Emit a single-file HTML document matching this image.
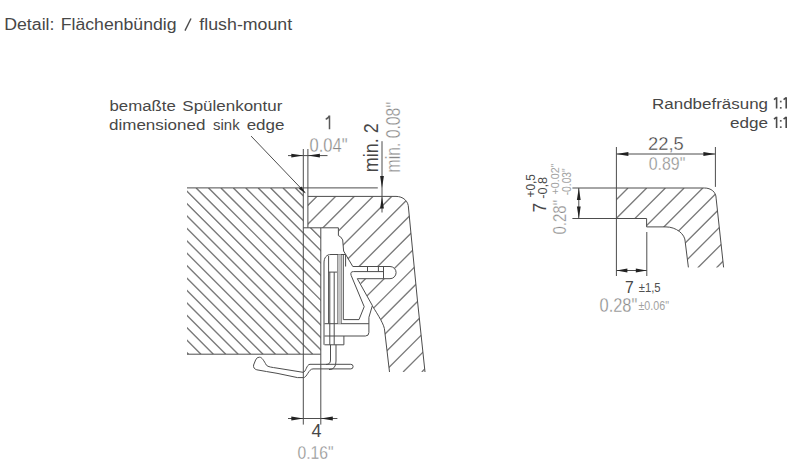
<!DOCTYPE html>
<html><head><meta charset="utf-8"><style>
html,body{margin:0;padding:0;background:#fff;}
body{width:800px;height:469px;overflow:hidden;position:relative;}
svg{position:absolute;left:0;top:0;font-family:"Liberation Sans", sans-serif;}
</style></head><body>
<svg width="800" height="469" viewBox="0 0 800 469">
<text x="4.22" y="29.7" font-size="15.6" fill="#474747" textLength="50.24" lengthAdjust="spacingAndGlyphs">Detail:</text>
<text x="60.78" y="29.7" font-size="15.6" fill="#474747" textLength="115.76" lengthAdjust="spacingAndGlyphs">Flächenbündig</text>
<text x="199.36" y="29.7" font-size="15.6" fill="#474747" textLength="92.84" lengthAdjust="spacingAndGlyphs">flush-mount</text>
<text x="109.44" y="110.5" font-size="14" fill="#474747" textLength="66.32" lengthAdjust="spacingAndGlyphs">bemaßte</text>
<text x="182.34" y="110.5" font-size="14" fill="#474747" textLength="99.98" lengthAdjust="spacingAndGlyphs">Spülenkontur</text>
<text x="109.0" y="130" font-size="14" fill="#474747" textLength="96.44" lengthAdjust="spacingAndGlyphs">dimensioned</text>
<text x="213.02" y="130" font-size="14" fill="#474747" textLength="26.62" lengthAdjust="spacingAndGlyphs">sink</text>
<text x="246.68" y="130" font-size="14" fill="#474747" textLength="37.76" lengthAdjust="spacingAndGlyphs">edge</text>
<text x="652.1" y="108.5" font-size="14" fill="#474747" textLength="115.9" lengthAdjust="spacingAndGlyphs">Randbefräsung</text>
<text x="729.9" y="128.3" font-size="14" fill="#474747" textLength="38.1" lengthAdjust="spacingAndGlyphs">edge</text>
<path d="M185 30.6L191 18.5" stroke="#4a4a4a" stroke-width="1.35" fill="none"/>
<path d="M776.6 97.3V108.6M774.0 99.7L776.6 97.5M786.2 97.3V108.6M783.6 99.7L786.2 97.5" stroke="#4a4a4a" stroke-width="1.6" fill="none"/>
<rect x="779.9" y="100.69999999999999" width="1.7" height="1.7" fill="#5a5a5a"/><rect x="779.9" y="107.0" width="1.7" height="1.7" fill="#5a5a5a"/>
<path d="M776.6 116.8V127.9M774.0 119.2L776.6 117.0M786.2 116.8V127.9M783.6 119.2L786.2 117.0" stroke="#4a4a4a" stroke-width="1.6" fill="none"/>
<rect x="779.9" y="120.0" width="1.7" height="1.7" fill="#5a5a5a"/><rect x="779.9" y="126.30000000000001" width="1.7" height="1.7" fill="#5a5a5a"/>
<defs>
<clipPath id="ct"><path d="M187 187.9H303.3V227.8H320.8V354.2H187Z"/></clipPath>
<clipPath id="rim"><path d="M307.9 196.4H396C403 196.4 408.5 201 408.5 208L417.4 300L425 372H389.5L384.7 331C384.7 325 378 315 372.3 305.8L343.6 251L342.7 239.9L340.6 236.9L338.4 235.6V227.8H307.9Z"/></clipPath>
<clipPath id="prof"><path d="M616.4 188H704.4C711 188 716.1 192 716.1 198.1L723.6 267.4H688.4L685.2 241.8C685.2 234 676 226.9 666 226.9H646.6V218.5H616.4Z"/></clipPath>
</defs>
<path clip-path="url(#ct)" d="M9.80 187.90L176.10 354.20M22.22 187.90L188.52 354.20M34.64 187.90L200.94 354.20M47.06 187.90L213.36 354.20M59.48 187.90L225.78 354.20M71.90 187.90L238.20 354.20M84.32 187.90L250.62 354.20M96.74 187.90L263.04 354.20M109.16 187.90L275.46 354.20M121.58 187.90L287.88 354.20M134.00 187.90L300.30 354.20M146.42 187.90L312.72 354.20M158.84 187.90L325.14 354.20M171.26 187.90L337.56 354.20M183.68 187.90L349.98 354.20M196.10 187.90L362.40 354.20M208.52 187.90L374.82 354.20M220.94 187.90L387.24 354.20M233.36 187.90L399.66 354.20M245.78 187.90L412.08 354.20M258.20 187.90L424.50 354.20M270.62 187.90L436.92 354.20M283.04 187.90L449.34 354.20M295.46 187.90L461.76 354.20M307.88 187.90L474.18 354.20M320.30 187.90L486.60 354.20M332.72 187.90L499.02 354.20" stroke="#7b7b7b" stroke-width="1.4" fill="none"/>
<path clip-path="url(#rim)" d="M298.60 196.00L122.60 372.00M317.30 196.00L141.30 372.00M336.00 196.00L160.00 372.00M354.70 196.00L178.70 372.00M373.40 196.00L197.40 372.00M392.10 196.00L216.10 372.00M410.80 196.00L234.80 372.00M429.50 196.00L253.50 372.00M448.20 196.00L272.20 372.00M466.90 196.00L290.90 372.00M485.60 196.00L309.60 372.00M504.30 196.00L328.30 372.00M523.00 196.00L347.00 372.00M541.70 196.00L365.70 372.00M560.40 196.00L384.40 372.00M579.10 196.00L403.10 372.00M597.80 196.00L421.80 372.00M616.50 196.00L440.50 372.00" stroke="#7b7b7b" stroke-width="1.35" fill="none"/>
<path clip-path="url(#prof)" d="M609.30 188.00L529.30 268.00M628.00 188.00L548.00 268.00M646.70 188.00L566.70 268.00M665.40 188.00L585.40 268.00M684.10 188.00L604.10 268.00M702.80 188.00L622.80 268.00M721.50 188.00L641.50 268.00M740.20 188.00L660.20 268.00M758.90 188.00L678.90 268.00M777.60 188.00L697.60 268.00M796.30 188.00L716.30 268.00M815.00 188.00L735.00 268.00" stroke="#7b7b7b" stroke-width="1.35" fill="none"/>
<rect x="338" y="254.5" width="3" height="69.2" fill="#c4c4c4"/>
<path d="M352.8 266.5H390A6.1 6.1 0 0 1 390 278.7H357.3L351.2 275.5L352.8 266.5Z" fill="#fff"/>
<path d="M187 187.9H377.8M187 354.2H320.8M303.3 149V424.6M320.8 227.8V424.6M307.9 149V227.8M303.3 227.8H338.4M307.9 196.4H396C403 196.4 408.5 201 408.5 208L417.4 300L425 372M338.4 227.8V235.6L340.6 236.9L342.7 239.9L343.6 251L352.8 266.5M372.3 305.8C378 315 384.7 325 384.7 331L389.5 372M288 155.6H327.5M382 141.2V212.5M288 418.5H337.4M324 344.8V263C324 257.5 326.5 254.5 331 254.5H345.6M328.6 256V323.7M345.6 254.5V266.5M328.6 272.1H337M329.8 272.1V344.8M334.2 272.1V344.8M337.9 254.5V323.7M341.1 254.5V323.7M343.3 254.5V319.6H359L364.2 306.7L351.2 275.5Q349.8 271.6 353.5 271.6H383.5M357.3 278.7L372.4 305.6L368.9 317.3V332.5Q368.9 336 365.4 336H324.5M324.5 323.7H368.9M324.5 344.8H343.9V336M383.5 266.5V278.7M367.5 266.5V271.6M378.4 266.5V271.6M330.5 344.8V360Q330.5 364.5 326 364.5M336 344.8V361Q336 369.6 329 369.6M310 364.3H350.8A2.3 2.3 0 0 1 350.8 368.9H313M259.6 357.2Q257 356.8 255.6 360L253.6 365Q253 368.7 256.8 369.8Q266 371.5 277 373.3L297.5 377.6H303.5C307 377.6 308.5 368.9 313 368.9M259.6 357.2C262 357.2 264 361 266.4 365.2C268 367 272 367.3 277 368.1L303 372.3C306 372.3 306.5 364.3 310 364.3M572.4 188H704.4C711 188 716.1 192 716.1 198.1L723.6 267.4M572.4 218.5H646.6V226.9H666C676 226.9 685.2 234 685.2 241.8L688.4 267.4M616.4 147V276M715.4 147V186.9M646.8 232V276M616.4 154H715.4M578.8 188V218.5M616.4 270.5H646.8" stroke="#4d4d4d" stroke-width="1" fill="none"/>
<rect x="338" y="254.5" width="3" height="69.2" fill="#c4c4c4"/>
<path d="M352.8 266.5H390A6.1 6.1 0 0 1 390 278.7H357.3" stroke="#4d4d4d" stroke-width="1" fill="none"/>
<path d="M303.30 155.60L291.30 157.50L291.30 153.70Z" fill="#222"/>
<path d="M307.90 155.60L319.90 153.70L319.90 157.50Z" fill="#222"/>
<path d="M382.00 187.90L380.10 175.90L383.90 175.90Z" fill="#222"/>
<path d="M382.00 196.40L383.90 208.40L380.10 208.40Z" fill="#222"/>
<path d="M303.30 418.50L291.30 420.40L291.30 416.60Z" fill="#222"/>
<path d="M320.80 418.50L332.80 416.60L332.80 420.40Z" fill="#222"/>
<path d="M616.40 154.00L628.40 152.10L628.40 155.90Z" fill="#222"/>
<path d="M715.40 154.00L703.40 155.90L703.40 152.10Z" fill="#222"/>
<path d="M578.80 188.00L580.70 200.00L576.90 200.00Z" fill="#222"/>
<path d="M578.80 218.50L576.90 206.50L580.70 206.50Z" fill="#222"/>
<path d="M616.40 270.50L627.40 268.40L627.40 272.60Z" fill="#222"/>
<path d="M646.80 270.50L635.80 272.60L635.80 268.40Z" fill="#222"/>
<path d="M251.1 136.1L305 192.5" stroke="#4d4d4d" stroke-width="1" fill="none"/>
<path d="M305.60 193.40L298.85 188.77L301.32 186.43Z" fill="#222"/>
<path d="M329.5 115.6V129.3M325.7 119.3Q328 118.5 329.5 115.6" stroke="#5a5a5a" stroke-width="1.5" fill="none"/>
<text x="309.5" y="151.8" font-size="20.5" fill="#888888" stroke="#fff" stroke-width="0.35" textLength="38" lengthAdjust="spacingAndGlyphs">0.04"</text>
<text transform="translate(377.8 172.2) rotate(-90)" x="0" y="0" font-size="20" fill="#474747" textLength="49" lengthAdjust="spacingAndGlyphs">min. 2</text>
<text transform="translate(400 172.5) rotate(-90)" x="0" y="0" font-size="20.5" fill="#888888" stroke="#fff" stroke-width="0.35" textLength="70.5" lengthAdjust="spacingAndGlyphs">min. 0.08"</text>
<text x="311.5" y="437.3" font-size="18.5" fill="#474747" textLength="10" lengthAdjust="spacingAndGlyphs">4</text>
<text x="297.5" y="458.8" font-size="18.5" fill="#888888" stroke="#fff" stroke-width="0.35" textLength="36.1" lengthAdjust="spacingAndGlyphs">0.16"</text>
<text x="648" y="150.3" font-size="19" fill="#383838" stroke="#fff" stroke-width="0.35" textLength="35.7" lengthAdjust="spacingAndGlyphs">22,5</text>
<text x="648.7" y="169.8" font-size="18" fill="#888888" stroke="#fff" stroke-width="0.35" textLength="36.6" lengthAdjust="spacingAndGlyphs">0.89"</text>
<text transform="translate(546.2 212.6) rotate(-90)" x="0" y="0" font-size="17.5" fill="#474747" textLength="9.6" lengthAdjust="spacingAndGlyphs">7</text>
<text transform="translate(535.3 197.5) rotate(-90)" x="0" y="0" font-size="12.5" fill="#4a4a4a" textLength="23.5" lengthAdjust="spacingAndGlyphs">+0,5</text>
<text transform="translate(546.5 198.8) rotate(-90)" x="0" y="0" font-size="12.5" fill="#4a4a4a" textLength="22" lengthAdjust="spacingAndGlyphs">-0,8</text>
<text transform="translate(566 234.5) rotate(-90)" x="0" y="0" font-size="18.5" fill="#888888" stroke="#fff" stroke-width="0.35" textLength="34.5" lengthAdjust="spacingAndGlyphs">0.28"</text>
<text transform="translate(559.4 194.5) rotate(-90)" x="0" y="0" font-size="11" fill="#a2a2a2" textLength="31" lengthAdjust="spacingAndGlyphs">+0.02"</text>
<text transform="translate(571.3 195.3) rotate(-90)" x="0" y="0" font-size="12.5" fill="#a2a2a2" textLength="27" lengthAdjust="spacingAndGlyphs">-0.03"</text>
<text x="625" y="292.5" font-size="17" fill="#474747" textLength="8.75" lengthAdjust="spacingAndGlyphs">7</text>
<text x="638.75" y="291.9" font-size="12.5" fill="#505050" textLength="21.9" lengthAdjust="spacingAndGlyphs">±1,5</text>
<text x="599.5" y="311.6" font-size="20" fill="#888888" stroke="#fff" stroke-width="0.35" textLength="37.8" lengthAdjust="spacingAndGlyphs">0.28"</text>
<text x="638.5" y="310.2" font-size="12.5" fill="#a2a2a2" textLength="30.5" lengthAdjust="spacingAndGlyphs">±0.06"</text>
</svg>
</body></html>
